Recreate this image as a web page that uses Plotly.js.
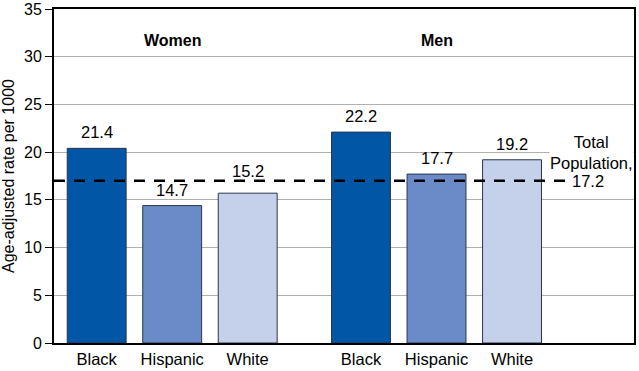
<!DOCTYPE html>
<html><head><meta charset="utf-8">
<script src="https://cdn.plot.ly/plotly-3.0.1.min.js"></script>
<style>html,body{margin:0;padding:0;background:#fff}#c{width:639px;height:371px}</style>
</head><body><div id="c"></div>
<script>
const groups = ["Women", "Men"];
const categories = ["Black", "Hispanic", "White", "Black", "Hispanic", "White"];
const xPositions = [0, 1, 2, 3.5, 4.5, 5.5];
const barHeights = [20.4, 14.4, 15.7, 22.1, 17.7, 19.2];
const valueLabels = ["21.4", "14.7", "15.2", "22.2", "17.7", "19.2"];
const barColors = ["#0256a6", "#6a8bc8", "#c5d0ea", "#0256a6", "#6a8bc8", "#c5d0ea"];
const totalLine = 17.0;
const totalTitle = "Total<br>Population,";
const totalValue = "17.2";
const yTicks = [0, 5, 10, 15, 20, 25, 30, 35];

const font = "Liberation Sans, Arial, Helvetica, sans-serif";

const bar = {
  type: "bar", x: xPositions, y: barHeights, width: 0.78,
  marker: {color: barColors, line: {color: "#2a3550", width: 1}},
  hoverinfo: "skip", showlegend: false
};
const dash = {
  type: "scatter", mode: "lines", x: [-0.565, 6.23], y: [totalLine, totalLine],
  line: {color: "#000", width: 2.5, dash: "11px,9px"}, hoverinfo: "skip", showlegend: false
};

const annotations = xPositions.map((x, i) => {
  const justBelowLine = barHeights[i] < totalLine && barHeights[i] > totalLine - 1.5;
  return {
    x: x, y: barHeights[i], text: valueLabels[i], showarrow: false,
    yshift: justBelowLine ? 22 : 16,
    font: {family: font, size: 16.5, color: "#000"}
  };
});
annotations.push({x: 1, y: 31.75, text: "<b>" + groups[0] + "</b>", showarrow: false, font: {family: font, size: 16, color: "#000"}});
annotations.push({x: 4.5, y: 31.75, text: "<b>" + groups[1] + "</b>", showarrow: false, font: {family: font, size: 16, color: "#000"}});
annotations.push({x: 6.55, y: totalLine, yanchor: "bottom", yshift: 8, text: totalTitle, showarrow: false, align: "center",
  bgcolor: "#fff", borderpad: 0, font: {family: font, size: 16.5, color: "#000"}});
annotations.push({x: 6.51, y: totalLine, yanchor: "middle", text: totalValue, showarrow: false,
  font: {family: font, size: 16.5, color: "#000"}});

const layout = {
  width: 639, height: 371,
  margin: {l: 54, r: 5, t: 9, b: 28},
  paper_bgcolor: "#fff", plot_bgcolor: "#fff",
  font: {family: font, size: 16, color: "#000"},
  xaxis: {range: [-0.565, 7.115], tickvals: xPositions, ticktext: categories, showgrid: false, zeroline: false,
    showline: true, linecolor: "#000", linewidth: 2, mirror: true, ticks: "", tickfont: {size: 16.5}},
  yaxis: {range: [0, 35], tickvals: yTicks, showgrid: true, gridcolor: "#b0b0b0", gridwidth: 1, zeroline: false,
    showline: true, linecolor: "#000", linewidth: 2, mirror: true, ticks: "outside", ticklen: 7, tickcolor: "#000",
    tickfont: {size: 16}, title: {text: "Age-adjusted rate per 1000", font: {size: 16}, standoff: 6}},
  annotations: annotations
};
Plotly.newPlot("c", [bar, dash], layout, {staticPlot: true, displayModeBar: false});
</script></body></html>
